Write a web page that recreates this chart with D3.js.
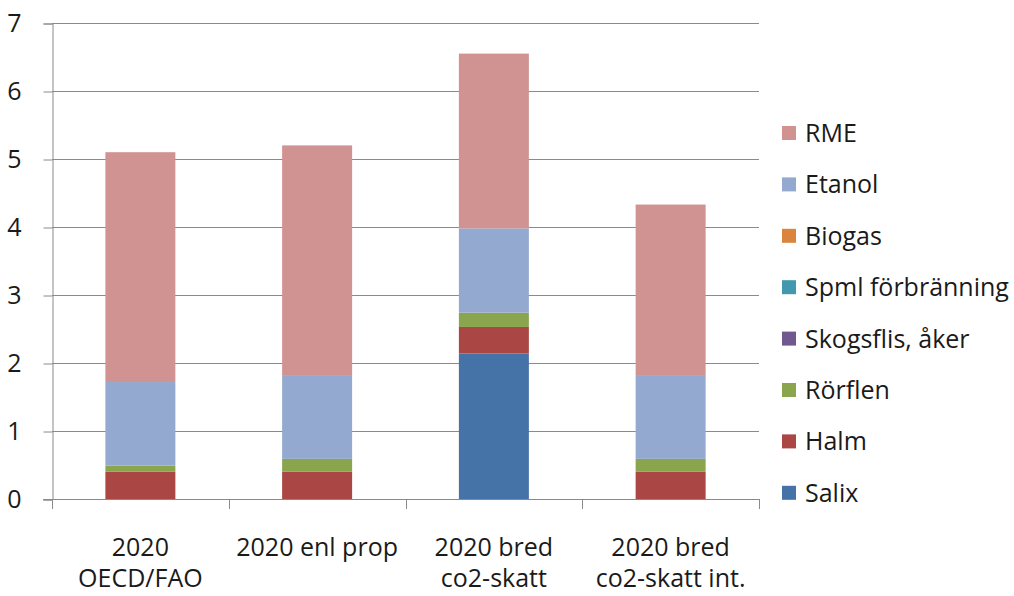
<!DOCTYPE html>
<html>
<head>
<meta charset="utf-8">
<script src="https://cdn.jsdelivr.net/npm/d3@7"></script>
<style>
  html, body { margin: 0; padding: 0; background: #fff; }
  svg text { font-family: "Open Sans", Lato, sans-serif; fill: #1a1a1a; }
</style>
</head>
<body>
<svg id="chart" width="1014" height="596"></svg>
<script>
// Scenarios on the x axis (two-line labels)
const categories = ["2020 OECD/FAO", "2020 enl prop", "2020 bred co2-skatt", "2020 bred co2-skatt int."];
const categoryLines = [["2020", "OECD/FAO"], ["2020 enl prop"], ["2020 bred", "co2-skatt"], ["2020 bred", "co2-skatt int."]];

// Series, from the bottom of each stack upwards
const seriesNames = ["Salix", "Halm", "Rörflen", "Skogsflis, åker", "Spml förbränning", "Biogas", "Etanol", "RME"];
const salix     = [0, 0, 2.14, 0];
const halm      = [0.40, 0.40, 0.39, 0.40];
const rorflen   = [0.09, 0.19, 0.21, 0.19];
const skogsflis = [0, 0, 0, 0];
const spml      = [0, 0, 0, 0];
const biogas    = [0, 0, 0, 0];
const etanol    = [1.23, 1.22, 1.24, 1.22];
const rme       = [3.38, 3.39, 2.57, 2.52];
const seriesColors = ["#4572A7", "#AA4643", "#89A54E", "#71588F", "#4198AF", "#DB843D", "#93A9CF", "#D19392"];

const yTicks = [0, 1, 2, 3, 4, 5, 6, 7];

const seriesValues = [salix, halm, rorflen, skogsflis, spml, biogas, etanol, rme];
const rows = categories.map((c, i) => {
  const r = { category: c };
  seriesNames.forEach((s, k) => { r[s] = seriesValues[k][i]; });
  return r;
});
const stacked = d3.stack().keys(seriesNames)(rows);

const svg = d3.select("#chart");
const plot = { left: 52, right: 759, top: 23, bottom: 499 };
const fontSize = 25;

const x = d3.scaleBand()
  .domain(categories)
  .range([plot.left, plot.right])
  .paddingInner(0.604)
  .paddingOuter(0.302);

const y = d3.scaleLinear().domain([0, 7]).range([plot.bottom, plot.top]);
const color = d3.scaleOrdinal().domain(seriesNames).range(seriesColors);

const gridColor = "#8a8a8a";

// Horizontal gridlines
svg.append("g")
  .selectAll("line")
  .data(yTicks.filter(t => t > 0))
  .join("line")
  .attr("x1", plot.left).attr("x2", plot.right)
  .attr("y1", d => Math.round(y(d)) + 0.5).attr("y2", d => Math.round(y(d)) + 0.5)
  .attr("stroke", gridColor).attr("stroke-width", 1);

// Stacked bars
svg.append("g")
  .selectAll("g")
  .data(stacked)
  .join("g")
  .attr("fill", d => color(d.key))
  .selectAll("rect")
  .data(d => d)
  .join("rect")
  .attr("x", d => x(d.data.category))
  .attr("width", x.bandwidth())
  .attr("y", d => y(d[1]))
  .attr("height", d => Math.max(0, y(d[0]) - y(d[1])));

// Y axis
const yAxis = d3.axisLeft(y).tickValues(yTicks).tickSize(9).tickPadding(22).tickFormat(d3.format("d"));
const gy = svg.append("g")
  .attr("transform", `translate(${plot.left + 0.5},0.5)`)
  .call(yAxis);
gy.select(".domain").attr("stroke", gridColor);
gy.selectAll(".tick line").attr("stroke", gridColor);
gy.selectAll(".tick text")
  .attr("font-size", fontSize)
  .attr("font-family", "'Open Sans', Lato, sans-serif")
  .attr("fill", "#1a1a1a");

// X axis: baseline with ticks at category boundaries
const boundaries = categories.map(c => x(c) - x.step() * x.paddingOuter()).concat([plot.right]);
const gx = svg.append("g");
gx.append("line")
  .attr("x1", plot.left - 9).attr("x2", plot.right)
  .attr("y1", plot.bottom + 0.5).attr("y2", plot.bottom + 0.5)
  .attr("stroke", gridColor);
gx.selectAll("line.bt")
  .data(boundaries)
  .join("line")
  .attr("class", "bt")
  .attr("x1", d => Math.round(d) + 0.5).attr("x2", d => Math.round(d) + 0.5)
  .attr("y1", plot.bottom).attr("y2", plot.bottom + 10)
  .attr("stroke", gridColor);

// Category labels
const lab = svg.append("g")
  .selectAll("text")
  .data(categories)
  .join("text")
  .attr("text-anchor", "middle")
  .attr("font-size", fontSize)
  .attr("x", d => x(d) + x.bandwidth() / 2);
lab.selectAll("tspan")
  .data((d, i) => categoryLines[i])
  .join("tspan")
  .attr("x", function () { return d3.select(this.parentNode).attr("x"); })
  .attr("y", (d, j) => 556 + j * 30.5)
  .text(d => d);

// Legend, top entry is the top of the stack
const legendNames = seriesNames.slice().reverse();
const leg = svg.append("g")
  .selectAll("g")
  .data(legendNames)
  .join("g")
  .attr("transform", (d, i) => `translate(782, ${133 + i * 51.4})`);
leg.append("rect")
  .attr("x", 0).attr("y", -7).attr("width", 14).attr("height", 14)
  .attr("fill", d => color(d));
leg.append("text")
  .attr("x", 23).attr("y", 9)
  .attr("font-size", fontSize)
  .text(d => d);
</script>
</body>
</html>
